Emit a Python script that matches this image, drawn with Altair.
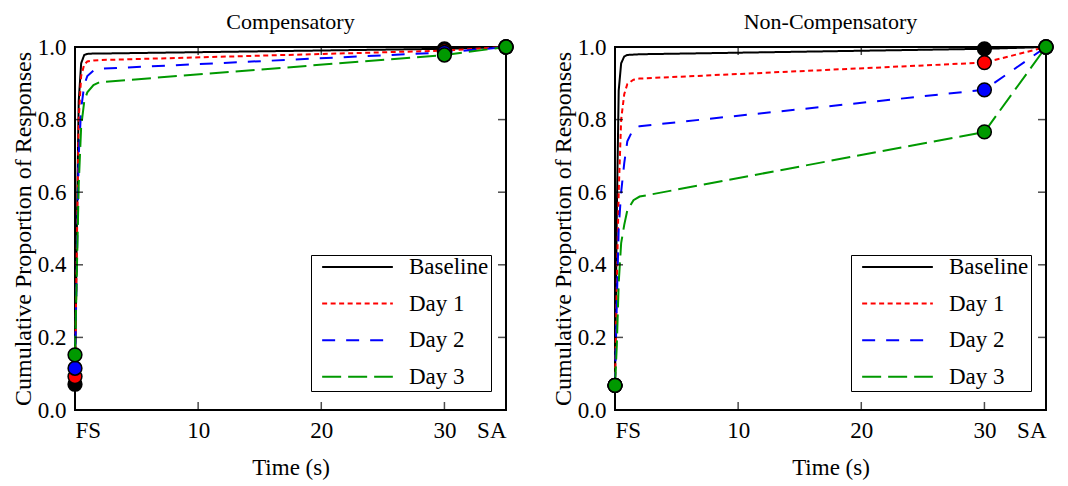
import altair as alt
import pandas as pd

series = ["Baseline", "Day 1", "Day 2", "Day 3"]
colors = ["#000000", "#ff0000", "#0000ff", "#009900"]
dashes = [[1, 0], [5, 3.5], [13, 11], [19, 7]]

times = [0, 0.15, 0.3, 0.5, 0.75, 1.0, 1.5, 2.0, 30, 35]
marker_times = [0, 30, 35]

comp = {
    "Baseline": [0.071, 0.50, 0.85, 0.955, 0.978, 0.981, 0.982, 0.982, 0.995, 1.0],
    "Day 1":    [0.092, 0.45, 0.80, 0.920, 0.952, 0.960, 0.963, 0.964, 0.990, 1.0],
    "Day 2":    [0.115, 0.40, 0.70, 0.830, 0.895, 0.920, 0.935, 0.940, 0.985, 1.0],
    "Day 3":    [0.152, 0.38, 0.62, 0.780, 0.850, 0.875, 0.895, 0.903, 0.978, 1.0],
}
noncomp = {
    "Baseline": [0.068, 0.55, 0.88, 0.955, 0.974, 0.978, 0.979, 0.980, 0.995, 1.0],
    "Day 1":    [0.068, 0.35, 0.60, 0.800, 0.870, 0.898, 0.910, 0.913, 0.957, 1.0],
    "Day 2":    [0.068, 0.30, 0.50, 0.600, 0.680, 0.740, 0.775, 0.782, 0.882, 1.0],
    "Day 3":    [0.068, 0.18, 0.35, 0.460, 0.510, 0.550, 0.578, 0.588, 0.766, 1.0],
}

x_labels_at = [0, 10, 20, 30, 35]
y_labels_at = [0.0, 0.2, 0.4, 0.6, 0.8, 1.0]
inner_x_ticks = [10, 20, 30]
inner_y_ticks = [0.2, 0.4, 0.6, 0.8]

W, H = 431, 363
FONT = "Liberation Serif"


def make_df(d):
    rows = []
    for s in series:
        for t, v in zip(times, d[s]):
            rows.append({"series": s, "t": t, "v": v})
    return pd.DataFrame(rows)


def panel(d, title):
    df = make_df(d)
    pts = df[df["t"].isin(marker_times)]
    xs = alt.Scale(domain=[0, 35], nice=False, zero=False)
    ys = alt.Scale(domain=[0, 1], nice=False)
    xaxis = alt.Axis(values=x_labels_at, grid=False, ticks=False, domain=False,
                     labelPadding=9, titlePadding=14, titleFontSize=23,
                     labelExpr="datum.value == 0 ? 'FS' : datum.value == 35 ? 'SA' : datum.label")
    yaxis = alt.Axis(values=y_labels_at, format=".1f", grid=False, ticks=False, domain=False,
                     labelPadding=9, titlePadding=2, titleFontSize=24)
    X = alt.X("t:Q", scale=xs, axis=xaxis, title="Time (s)")
    Y = alt.Y("v:Q", scale=ys, axis=yaxis, title="Cumulative Proportion of Responses")
    leg = alt.Legend(title=None, orient="none", legendX=236, legendY=208,
                     strokeColor="black", fillColor="white", padding=2, symbolOffset=8,
                     symbolType="stroke", symbolSize=5000, symbolStrokeWidth=2,
                     labelFont=FONT, labelFontSize=23, labelColor="black",
                     labelOffset=15, rowPadding=13.6, clipHeight=20)
    lines = alt.Chart(df).mark_line(strokeWidth=2).encode(
        x=X, y=Y,
        color=alt.Color("series:N", scale=alt.Scale(domain=series, range=colors), legend=leg),
        strokeDash=alt.StrokeDash("series:N", scale=alt.Scale(domain=series, range=dashes), legend=leg),
    )
    points = alt.Chart(pts).mark_point(filled=True, shape="circle", size=190, opacity=1,
                                       stroke="black", strokeWidth=1.5).encode(
        x=X, y=Y,
        fill=alt.Fill("series:N", scale=alt.Scale(domain=series, range=colors), legend=None),
    )
    tx = pd.DataFrame({"t": inner_x_ticks})
    ty = pd.DataFrame({"v": inner_y_ticks})
    tick_bottom = alt.Chart(tx).mark_tick(color="black", thickness=1.5, size=8).encode(
        x=X, y=alt.value(H - 4))
    tick_top = alt.Chart(tx).mark_tick(color="black", thickness=1.5, size=8).encode(
        x=X, y=alt.value(4))
    tick_left = alt.Chart(ty).mark_tick(color="black", thickness=1.5, size=8).encode(
        y=Y, x=alt.value(4))
    tick_right = alt.Chart(ty).mark_tick(color="black", thickness=1.5, size=8).encode(
        y=Y, x=alt.value(W - 4))
    return alt.layer(lines, tick_bottom, tick_top, tick_left, tick_right, points).properties(
        width=W, height=H,
        title=alt.Title(title, font=FONT, fontSize=22, fontWeight="normal", color="black", offset=2),
    )


chart = alt.hconcat(panel(comp, "Compensatory"), panel(noncomp, "Non-Compensatory"), spacing=33).resolve_legend(
    color="independent", strokeDash="independent").properties(
    padding={"left": 2, "right": 2, "top": 2, "bottom": 2}
).configure_view(
    stroke="black", strokeWidth=2
).configure_axis(
    labelFont=FONT, titleFont=FONT, labelFontSize=23,
    labelColor="black", titleColor="black", titleFontWeight="normal"
)

chart.save("out.html", embed_options={"renderer": "svg", "actions": False})
